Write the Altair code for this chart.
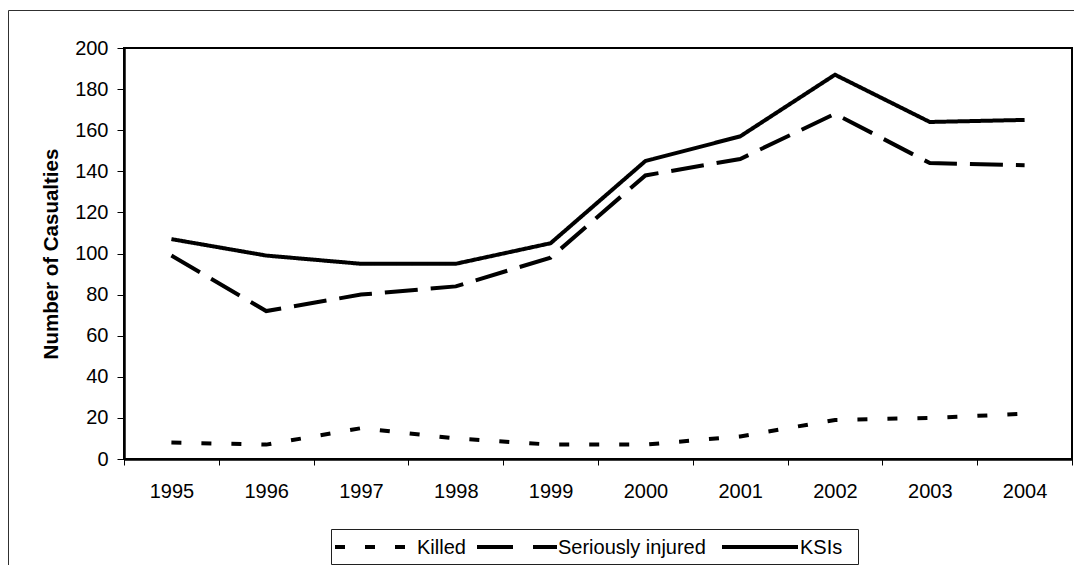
import altair as alt
import pandas as pd

years = ["1995", "1996", "1997", "1998", "1999", "2000", "2001", "2002", "2003", "2004"]
killed = [8, 7, 15, 10, 7, 7, 11, 19, 20, 22]
seriously_injured = [99, 72, 80, 84, 98, 138, 146, 168, 144, 143]
ksis = [107, 99, 95, 95, 105, 145, 157, 187, 164, 165]
series_names = ["Killed", "Seriously injured", "KSIs"]
y_ticks = [0, 20, 40, 60, 80, 100, 120, 140, 160, 180, 200]

rows = []
for name, vals in zip(series_names, [killed, seriously_injured, ksis]):
    for yr, v in zip(years, vals):
        rows.append({"Year": yr, "Series": name, "Value": v})
df = pd.DataFrame(rows)

W, H = 948, 411
FONT = "Liberation Sans"
dashes = [[10, 20], [33, 13], [1, 0]]

lines = alt.Chart(df).mark_line(strokeWidth=4, color="black", clip=False).encode(
    x=alt.X("Year:N", sort=years,
            scale=alt.Scale(paddingInner=0, paddingOuter=0),
            axis=alt.Axis(title=None, labelAngle=0, tickBand="extent", tickSize=6,
                          labelPadding=16)),
    y=alt.Y("Value:Q", scale=alt.Scale(domain=[0, 200], nice=False),
            axis=alt.Axis(title="Number of Casualties", values=y_ticks, tickSize=7,
                          labelPadding=9, labelFlush=False, titlePadding=13,
                          titleFontWeight="bold", titleFontSize=20.5, titleFont=FONT,
                          titleColor="black")),
    strokeDash=alt.StrokeDash("Series:N",
        scale=alt.Scale(domain=series_names, range=dashes), legend=None),
    order=alt.Order("Year:N"),
)

one = pd.DataFrame({"a": [0]})

border = alt.Chart(one).mark_rect(
    fillOpacity=0, stroke="#303030", strokeWidth=1, clip=False
).encode(
    x=alt.value(-115.5), x2=alt.value(W + 10),
    y=alt.value(-37.5), y2=alt.value(H + 150),
)

# manual legend (layout constants, relative to plot origin)
LEG_Y = 499
legend_box = alt.Chart(one).mark_rect(
    fill="white", stroke="#202020", strokeWidth=1, clip=False
).encode(
    x=alt.value(207.5), x2=alt.value(734.5), y=alt.value(481.5), y2=alt.value(516.5)
)
sym_pos = [(211, 283, 293), (353, 433, 434), (598, 674, 676)]
legend_dashes = [[10, 20], [36, 20], [1, 0]]
legend_layers = []
for name, (x0, x1, tx), dsh in zip(series_names, sym_pos, legend_dashes):
    legend_layers.append(
        alt.Chart(one).mark_rule(strokeWidth=4, color="black", strokeDash=dsh,
                                 clip=False).encode(
            x=alt.value(x0), x2=alt.value(x1), y=alt.value(LEG_Y), y2=alt.value(LEG_Y))
    )
    legend_layers.append(
        alt.Chart(one).mark_text(text=name, font=FONT, fontSize=20, color="black",
                                 align="left", baseline="middle", clip=False).encode(
            x=alt.value(tx), y=alt.value(LEG_Y + 1))
    )

chart = alt.layer(border, lines, legend_box, *legend_layers).properties(
    width=W, height=H,
    autosize=alt.AutoSizeParams(type="none"),
    padding={"left": 116, "top": 40, "right": 2, "bottom": 106},
    background="white",
).configure_view(
    stroke="black", strokeWidth=2
).configure_axis(
    grid=False, domainColor="black", domainWidth=2.5, tickColor="black",
    tickWidth=1, labelColor="black", labelFont=FONT, labelFontSize=20,
)

chart.save("out.html", embed_options={"renderer": "svg", "actions": False})
